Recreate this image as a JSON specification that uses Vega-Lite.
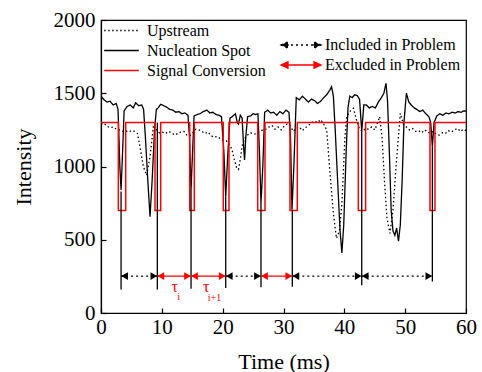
{
  "$schema": "https://vega.github.io/schema/vega-lite/v6.json",
  "width": 365,
  "height": 293,
  "autosize": {"type": "none"},
  "padding": {"left": 101, "top": 20, "right": 16, "bottom": 59},
  "background": "white",
  "config": {
    "font": "Liberation Serif",
    "style": {
      "guide-label": {"font": "Liberation Serif", "fontWeight": "normal", "fill": "black"},
      "guide-title": {"font": "Liberation Serif", "fontWeight": "normal", "fill": "black"}
    },
    "view": {"stroke": "black", "strokeWidth": 1.2},
    "axis": {
      "grid": false,
      "domainColor": "black",
      "domainWidth": 1.2,
      "tickColor": "black",
      "tickWidth": 1.2,
      "tickSize": -5,
      "labelFlush": false,
      "labelOverlap": false,
      "format": "d",
      "labelFont": "Liberation Serif",
      "labelFontSize": 21,
      "labelColor": "black",
      "titleFont": "Liberation Serif",
      "titleFontSize": 22,
      "titleFontWeight": 400,
      "titleColor": "black"
    },
    "legend": {
      "labelFont": "Liberation Serif",
      "labelFontSize": 16,
      "labelColor": "black"
    }
  },
  "datasets": {
    "traces": [
      {"t": 0, "v": 1480, "series": "Nucleation Spot"},
      {"t": 0.5, "v": 1455, "series": "Nucleation Spot"},
      {"t": 1.0, "v": 1440, "series": "Nucleation Spot"},
      {"t": 1.5, "v": 1445, "series": "Nucleation Spot"},
      {"t": 2.0, "v": 1420, "series": "Nucleation Spot"},
      {"t": 2.5, "v": 1430, "series": "Nucleation Spot"},
      {"t": 2.8, "v": 1390, "series": "Nucleation Spot"},
      {"t": 3.1, "v": 1000, "series": "Nucleation Spot"},
      {"t": 3.3, "v": 840, "series": "Nucleation Spot"},
      {"t": 3.55, "v": 1100, "series": "Nucleation Spot"},
      {"t": 3.8, "v": 1380, "series": "Nucleation Spot"},
      {"t": 4.3, "v": 1410, "series": "Nucleation Spot"},
      {"t": 4.8, "v": 1420, "series": "Nucleation Spot"},
      {"t": 5.3, "v": 1400, "series": "Nucleation Spot"},
      {"t": 5.7, "v": 1435, "series": "Nucleation Spot"},
      {"t": 6.2, "v": 1415, "series": "Nucleation Spot"},
      {"t": 6.7, "v": 1420, "series": "Nucleation Spot"},
      {"t": 7.0, "v": 1390, "series": "Nucleation Spot"},
      {"t": 7.3, "v": 1200, "series": "Nucleation Spot"},
      {"t": 7.7, "v": 900, "series": "Nucleation Spot"},
      {"t": 8.06, "v": 657, "series": "Nucleation Spot"},
      {"t": 8.4, "v": 900, "series": "Nucleation Spot"},
      {"t": 8.8, "v": 1250, "series": "Nucleation Spot"},
      {"t": 9.1, "v": 1390, "series": "Nucleation Spot"},
      {"t": 9.4, "v": 1400, "series": "Nucleation Spot"},
      {"t": 9.8, "v": 1425, "series": "Nucleation Spot"},
      {"t": 10.3, "v": 1415, "series": "Nucleation Spot"},
      {"t": 10.8, "v": 1405, "series": "Nucleation Spot"},
      {"t": 11.3, "v": 1390, "series": "Nucleation Spot"},
      {"t": 11.8, "v": 1385, "series": "Nucleation Spot"},
      {"t": 12.3, "v": 1370, "series": "Nucleation Spot"},
      {"t": 12.8, "v": 1375, "series": "Nucleation Spot"},
      {"t": 13.3, "v": 1360, "series": "Nucleation Spot"},
      {"t": 13.8, "v": 1365, "series": "Nucleation Spot"},
      {"t": 14.3, "v": 1350, "series": "Nucleation Spot"},
      {"t": 14.55, "v": 1200, "series": "Nucleation Spot"},
      {"t": 14.8, "v": 840, "series": "Nucleation Spot"},
      {"t": 15.05, "v": 1100, "series": "Nucleation Spot"},
      {"t": 15.3, "v": 1345, "series": "Nucleation Spot"},
      {"t": 15.8, "v": 1355, "series": "Nucleation Spot"},
      {"t": 16.3, "v": 1360, "series": "Nucleation Spot"},
      {"t": 16.8, "v": 1375, "series": "Nucleation Spot"},
      {"t": 17.4, "v": 1385, "series": "Nucleation Spot"},
      {"t": 17.9, "v": 1365, "series": "Nucleation Spot"},
      {"t": 18.4, "v": 1370, "series": "Nucleation Spot"},
      {"t": 18.9, "v": 1355, "series": "Nucleation Spot"},
      {"t": 19.4, "v": 1350, "series": "Nucleation Spot"},
      {"t": 19.8, "v": 1340, "series": "Nucleation Spot"},
      {"t": 20.2, "v": 1100, "series": "Nucleation Spot"},
      {"t": 20.5, "v": 794, "series": "Nucleation Spot"},
      {"t": 20.8, "v": 1050, "series": "Nucleation Spot"},
      {"t": 21.2, "v": 1330, "series": "Nucleation Spot"},
      {"t": 21.7, "v": 1345, "series": "Nucleation Spot"},
      {"t": 22.1, "v": 1360, "series": "Nucleation Spot"},
      {"t": 22.4, "v": 1300, "series": "Nucleation Spot"},
      {"t": 22.6, "v": 1290, "series": "Nucleation Spot"},
      {"t": 22.9, "v": 1350, "series": "Nucleation Spot"},
      {"t": 23.2, "v": 1330, "series": "Nucleation Spot"},
      {"t": 23.45, "v": 1130, "series": "Nucleation Spot"},
      {"t": 23.6, "v": 1045, "series": "Nucleation Spot"},
      {"t": 23.8, "v": 1200, "series": "Nucleation Spot"},
      {"t": 24.1, "v": 1340, "series": "Nucleation Spot"},
      {"t": 24.6, "v": 1345, "series": "Nucleation Spot"},
      {"t": 25.0, "v": 1360, "series": "Nucleation Spot"},
      {"t": 25.4, "v": 1355, "series": "Nucleation Spot"},
      {"t": 25.8, "v": 1360, "series": "Nucleation Spot"},
      {"t": 26.05, "v": 1100, "series": "Nucleation Spot"},
      {"t": 26.3, "v": 750, "series": "Nucleation Spot"},
      {"t": 26.6, "v": 1000, "series": "Nucleation Spot"},
      {"t": 26.9, "v": 1370, "series": "Nucleation Spot"},
      {"t": 27.4, "v": 1385, "series": "Nucleation Spot"},
      {"t": 27.9, "v": 1365, "series": "Nucleation Spot"},
      {"t": 28.4, "v": 1370, "series": "Nucleation Spot"},
      {"t": 28.9, "v": 1350, "series": "Nucleation Spot"},
      {"t": 29.4, "v": 1375, "series": "Nucleation Spot"},
      {"t": 29.9, "v": 1360, "series": "Nucleation Spot"},
      {"t": 30.4, "v": 1385, "series": "Nucleation Spot"},
      {"t": 30.9, "v": 1370, "series": "Nucleation Spot"},
      {"t": 31.15, "v": 1200, "series": "Nucleation Spot"},
      {"t": 31.4, "v": 705, "series": "Nucleation Spot"},
      {"t": 31.7, "v": 1000, "series": "Nucleation Spot"},
      {"t": 32.1, "v": 1470, "series": "Nucleation Spot"},
      {"t": 32.6, "v": 1455, "series": "Nucleation Spot"},
      {"t": 33.1, "v": 1480, "series": "Nucleation Spot"},
      {"t": 33.6, "v": 1460, "series": "Nucleation Spot"},
      {"t": 34.1, "v": 1440, "series": "Nucleation Spot"},
      {"t": 34.6, "v": 1460, "series": "Nucleation Spot"},
      {"t": 35.1, "v": 1450, "series": "Nucleation Spot"},
      {"t": 35.6, "v": 1430, "series": "Nucleation Spot"},
      {"t": 36.1, "v": 1445, "series": "Nucleation Spot"},
      {"t": 36.6, "v": 1470, "series": "Nucleation Spot"},
      {"t": 37.1, "v": 1490, "series": "Nucleation Spot"},
      {"t": 37.6, "v": 1520, "series": "Nucleation Spot"},
      {"t": 37.9, "v": 1545, "series": "Nucleation Spot"},
      {"t": 38.2, "v": 1480, "series": "Nucleation Spot"},
      {"t": 38.5, "v": 1250, "series": "Nucleation Spot"},
      {"t": 38.9, "v": 900, "series": "Nucleation Spot"},
      {"t": 39.3, "v": 560, "series": "Nucleation Spot"},
      {"t": 39.6, "v": 410, "series": "Nucleation Spot"},
      {"t": 39.9, "v": 600, "series": "Nucleation Spot"},
      {"t": 40.3, "v": 1100, "series": "Nucleation Spot"},
      {"t": 40.6, "v": 1400, "series": "Nucleation Spot"},
      {"t": 40.9, "v": 1480, "series": "Nucleation Spot"},
      {"t": 41.3, "v": 1470, "series": "Nucleation Spot"},
      {"t": 41.7, "v": 1490, "series": "Nucleation Spot"},
      {"t": 42.1, "v": 1485, "series": "Nucleation Spot"},
      {"t": 42.5, "v": 1460, "series": "Nucleation Spot"},
      {"t": 42.86, "v": 1240, "series": "Nucleation Spot"},
      {"t": 43.2, "v": 1420, "series": "Nucleation Spot"},
      {"t": 43.6, "v": 1420, "series": "Nucleation Spot"},
      {"t": 44.1, "v": 1400, "series": "Nucleation Spot"},
      {"t": 44.6, "v": 1410, "series": "Nucleation Spot"},
      {"t": 45.1, "v": 1400, "series": "Nucleation Spot"},
      {"t": 45.6, "v": 1440, "series": "Nucleation Spot"},
      {"t": 46.1, "v": 1470, "series": "Nucleation Spot"},
      {"t": 46.5, "v": 1500, "series": "Nucleation Spot"},
      {"t": 46.85, "v": 1568, "series": "Nucleation Spot"},
      {"t": 47.1, "v": 1450, "series": "Nucleation Spot"},
      {"t": 47.4, "v": 1100, "series": "Nucleation Spot"},
      {"t": 47.7, "v": 700, "series": "Nucleation Spot"},
      {"t": 48.0, "v": 560, "series": "Nucleation Spot"},
      {"t": 48.3, "v": 530, "series": "Nucleation Spot"},
      {"t": 48.6, "v": 580, "series": "Nucleation Spot"},
      {"t": 48.9, "v": 490, "series": "Nucleation Spot"},
      {"t": 49.2, "v": 600, "series": "Nucleation Spot"},
      {"t": 49.5, "v": 900, "series": "Nucleation Spot"},
      {"t": 49.8, "v": 1300, "series": "Nucleation Spot"},
      {"t": 50.2, "v": 1500, "series": "Nucleation Spot"},
      {"t": 50.6, "v": 1440, "series": "Nucleation Spot"},
      {"t": 51.0, "v": 1420, "series": "Nucleation Spot"},
      {"t": 51.5, "v": 1400, "series": "Nucleation Spot"},
      {"t": 51.9, "v": 1390, "series": "Nucleation Spot"},
      {"t": 52.4, "v": 1375, "series": "Nucleation Spot"},
      {"t": 52.9, "v": 1385, "series": "Nucleation Spot"},
      {"t": 53.4, "v": 1360, "series": "Nucleation Spot"},
      {"t": 53.9, "v": 1340, "series": "Nucleation Spot"},
      {"t": 54.2, "v": 1300, "series": "Nucleation Spot"},
      {"t": 54.47, "v": 1135, "series": "Nucleation Spot"},
      {"t": 54.75, "v": 1300, "series": "Nucleation Spot"},
      {"t": 55.2, "v": 1345, "series": "Nucleation Spot"},
      {"t": 55.7, "v": 1360, "series": "Nucleation Spot"},
      {"t": 56.2, "v": 1350, "series": "Nucleation Spot"},
      {"t": 56.7, "v": 1365, "series": "Nucleation Spot"},
      {"t": 57.2, "v": 1360, "series": "Nucleation Spot"},
      {"t": 57.7, "v": 1370, "series": "Nucleation Spot"},
      {"t": 58.2, "v": 1365, "series": "Nucleation Spot"},
      {"t": 58.7, "v": 1375, "series": "Nucleation Spot"},
      {"t": 59.2, "v": 1370, "series": "Nucleation Spot"},
      {"t": 59.6, "v": 1380, "series": "Nucleation Spot"},
      {"t": 60, "v": 1378, "series": "Nucleation Spot"},
      {"t": 0, "v": 1290, "series": "Upstream"},
      {"t": 0.5, "v": 1295, "series": "Upstream"},
      {"t": 1.0, "v": 1275, "series": "Upstream"},
      {"t": 1.5, "v": 1265, "series": "Upstream"},
      {"t": 2.0, "v": 1270, "series": "Upstream"},
      {"t": 2.5, "v": 1255, "series": "Upstream"},
      {"t": 3.0, "v": 1250, "series": "Upstream"},
      {"t": 3.5, "v": 1240, "series": "Upstream"},
      {"t": 4.0, "v": 1245, "series": "Upstream"},
      {"t": 4.5, "v": 1235, "series": "Upstream"},
      {"t": 5.0, "v": 1245, "series": "Upstream"},
      {"t": 5.5, "v": 1240, "series": "Upstream"},
      {"t": 6.0, "v": 1225, "series": "Upstream"},
      {"t": 6.4, "v": 1135, "series": "Upstream"},
      {"t": 6.96, "v": 1000, "series": "Upstream"},
      {"t": 7.5, "v": 940, "series": "Upstream"},
      {"t": 8.06, "v": 1067, "series": "Upstream"},
      {"t": 8.6, "v": 1270, "series": "Upstream"},
      {"t": 9.1, "v": 1250, "series": "Upstream"},
      {"t": 9.6, "v": 1230, "series": "Upstream"},
      {"t": 10.1, "v": 1235, "series": "Upstream"},
      {"t": 10.6, "v": 1225, "series": "Upstream"},
      {"t": 11.1, "v": 1240, "series": "Upstream"},
      {"t": 11.6, "v": 1230, "series": "Upstream"},
      {"t": 12.1, "v": 1215, "series": "Upstream"},
      {"t": 12.6, "v": 1225, "series": "Upstream"},
      {"t": 13.1, "v": 1235, "series": "Upstream"},
      {"t": 13.6, "v": 1240, "series": "Upstream"},
      {"t": 14.1, "v": 1215, "series": "Upstream"},
      {"t": 14.6, "v": 1210, "series": "Upstream"},
      {"t": 15.1, "v": 1230, "series": "Upstream"},
      {"t": 15.6, "v": 1255, "series": "Upstream"},
      {"t": 16.1, "v": 1250, "series": "Upstream"},
      {"t": 16.6, "v": 1240, "series": "Upstream"},
      {"t": 17.1, "v": 1225, "series": "Upstream"},
      {"t": 17.6, "v": 1235, "series": "Upstream"},
      {"t": 18.1, "v": 1210, "series": "Upstream"},
      {"t": 18.6, "v": 1200, "series": "Upstream"},
      {"t": 19.1, "v": 1205, "series": "Upstream"},
      {"t": 19.6, "v": 1190, "series": "Upstream"},
      {"t": 20.1, "v": 1180, "series": "Upstream"},
      {"t": 20.6, "v": 1175, "series": "Upstream"},
      {"t": 21.1, "v": 1150, "series": "Upstream"},
      {"t": 21.5, "v": 1120, "series": "Upstream"},
      {"t": 21.9, "v": 1050, "series": "Upstream"},
      {"t": 22.3, "v": 990, "series": "Upstream"},
      {"t": 22.6, "v": 980, "series": "Upstream"},
      {"t": 22.9, "v": 1050, "series": "Upstream"},
      {"t": 23.2, "v": 1140, "series": "Upstream"},
      {"t": 23.6, "v": 1190, "series": "Upstream"},
      {"t": 24.1, "v": 1215, "series": "Upstream"},
      {"t": 24.6, "v": 1230, "series": "Upstream"},
      {"t": 25.1, "v": 1220, "series": "Upstream"},
      {"t": 25.6, "v": 1225, "series": "Upstream"},
      {"t": 26.1, "v": 1240, "series": "Upstream"},
      {"t": 26.6, "v": 1250, "series": "Upstream"},
      {"t": 27.1, "v": 1255, "series": "Upstream"},
      {"t": 27.6, "v": 1270, "series": "Upstream"},
      {"t": 28.1, "v": 1280, "series": "Upstream"},
      {"t": 28.6, "v": 1255, "series": "Upstream"},
      {"t": 29.1, "v": 1270, "series": "Upstream"},
      {"t": 29.6, "v": 1250, "series": "Upstream"},
      {"t": 30.1, "v": 1275, "series": "Upstream"},
      {"t": 30.6, "v": 1290, "series": "Upstream"},
      {"t": 31.1, "v": 1280, "series": "Upstream"},
      {"t": 31.6, "v": 1240, "series": "Upstream"},
      {"t": 32.1, "v": 1260, "series": "Upstream"},
      {"t": 32.6, "v": 1270, "series": "Upstream"},
      {"t": 33.1, "v": 1245, "series": "Upstream"},
      {"t": 33.6, "v": 1265, "series": "Upstream"},
      {"t": 34.1, "v": 1280, "series": "Upstream"},
      {"t": 34.6, "v": 1300, "series": "Upstream"},
      {"t": 35.1, "v": 1310, "series": "Upstream"},
      {"t": 35.6, "v": 1300, "series": "Upstream"},
      {"t": 36.1, "v": 1320, "series": "Upstream"},
      {"t": 36.6, "v": 1290, "series": "Upstream"},
      {"t": 37.1, "v": 1250, "series": "Upstream"},
      {"t": 37.6, "v": 976, "series": "Upstream"},
      {"t": 38.2, "v": 680, "series": "Upstream"},
      {"t": 38.7, "v": 510, "series": "Upstream"},
      {"t": 39.2, "v": 560, "series": "Upstream"},
      {"t": 39.6, "v": 749, "series": "Upstream"},
      {"t": 40.1, "v": 1203, "series": "Upstream"},
      {"t": 40.4, "v": 1340, "series": "Upstream"},
      {"t": 41.0, "v": 1380, "series": "Upstream"},
      {"t": 41.5, "v": 1397, "series": "Upstream"},
      {"t": 42.0, "v": 1317, "series": "Upstream"},
      {"t": 42.5, "v": 1255, "series": "Upstream"},
      {"t": 43.0, "v": 1240, "series": "Upstream"},
      {"t": 43.5, "v": 1260, "series": "Upstream"},
      {"t": 44.0, "v": 1255, "series": "Upstream"},
      {"t": 44.5, "v": 1270, "series": "Upstream"},
      {"t": 45.0, "v": 1250, "series": "Upstream"},
      {"t": 45.4, "v": 1290, "series": "Upstream"},
      {"t": 45.8, "v": 1340, "series": "Upstream"},
      {"t": 46.2, "v": 1200, "series": "Upstream"},
      {"t": 46.6, "v": 900, "series": "Upstream"},
      {"t": 47.0, "v": 650, "series": "Upstream"},
      {"t": 47.5, "v": 544, "series": "Upstream"},
      {"t": 48.0, "v": 700, "series": "Upstream"},
      {"t": 48.5, "v": 1000, "series": "Upstream"},
      {"t": 49.2, "v": 1363, "series": "Upstream"},
      {"t": 49.7, "v": 1290, "series": "Upstream"},
      {"t": 50.2, "v": 1270, "series": "Upstream"},
      {"t": 50.7, "v": 1250, "series": "Upstream"},
      {"t": 51.2, "v": 1260, "series": "Upstream"},
      {"t": 51.7, "v": 1240, "series": "Upstream"},
      {"t": 52.2, "v": 1245, "series": "Upstream"},
      {"t": 52.7, "v": 1230, "series": "Upstream"},
      {"t": 53.2, "v": 1250, "series": "Upstream"},
      {"t": 53.7, "v": 1235, "series": "Upstream"},
      {"t": 54.1, "v": 1227, "series": "Upstream"},
      {"t": 54.6, "v": 1240, "series": "Upstream"},
      {"t": 55.1, "v": 1220, "series": "Upstream"},
      {"t": 55.6, "v": 1215, "series": "Upstream"},
      {"t": 56.1, "v": 1230, "series": "Upstream"},
      {"t": 56.6, "v": 1225, "series": "Upstream"},
      {"t": 57.1, "v": 1245, "series": "Upstream"},
      {"t": 57.6, "v": 1235, "series": "Upstream"},
      {"t": 58.1, "v": 1250, "series": "Upstream"},
      {"t": 58.6, "v": 1260, "series": "Upstream"},
      {"t": 59.1, "v": 1240, "series": "Upstream"},
      {"t": 59.6, "v": 1255, "series": "Upstream"},
      {"t": 60, "v": 1245, "series": "Upstream"}
    ],
    "signal": [
      {"i": 0, "t": 0, "v": 1300, "series": "Signal Conversion"},
      {"i": 1, "t": 2.85, "v": 1300, "series": "Signal Conversion"},
      {"i": 2, "t": 2.85, "v": 700, "series": "Signal Conversion"},
      {"i": 3, "t": 4.06, "v": 700, "series": "Signal Conversion"},
      {"i": 4, "t": 4.06, "v": 1300, "series": "Signal Conversion"},
      {"i": 5, "t": 8.88, "v": 1300, "series": "Signal Conversion"},
      {"i": 6, "t": 8.88, "v": 700, "series": "Signal Conversion"},
      {"i": 7, "t": 9.81, "v": 700, "series": "Signal Conversion"},
      {"i": 8, "t": 9.81, "v": 1300, "series": "Signal Conversion"},
      {"i": 9, "t": 14.58, "v": 1300, "series": "Signal Conversion"},
      {"i": 10, "t": 14.58, "v": 700, "series": "Signal Conversion"},
      {"i": 11, "t": 15.34, "v": 700, "series": "Signal Conversion"},
      {"i": 12, "t": 15.34, "v": 1300, "series": "Signal Conversion"},
      {"i": 13, "t": 20.1, "v": 1300, "series": "Signal Conversion"},
      {"i": 14, "t": 20.1, "v": 700, "series": "Signal Conversion"},
      {"i": 15, "t": 21.04, "v": 700, "series": "Signal Conversion"},
      {"i": 16, "t": 21.04, "v": 1300, "series": "Signal Conversion"},
      {"i": 17, "t": 25.76, "v": 1300, "series": "Signal Conversion"},
      {"i": 18, "t": 25.76, "v": 700, "series": "Signal Conversion"},
      {"i": 19, "t": 26.96, "v": 700, "series": "Signal Conversion"},
      {"i": 20, "t": 26.96, "v": 1300, "series": "Signal Conversion"},
      {"i": 21, "t": 31.07, "v": 1300, "series": "Signal Conversion"},
      {"i": 22, "t": 31.07, "v": 700, "series": "Signal Conversion"},
      {"i": 23, "t": 32.27, "v": 700, "series": "Signal Conversion"},
      {"i": 24, "t": 32.27, "v": 1300, "series": "Signal Conversion"},
      {"i": 25, "t": 42.3, "v": 1300, "series": "Signal Conversion"},
      {"i": 26, "t": 42.3, "v": 700, "series": "Signal Conversion"},
      {"i": 27, "t": 43.5, "v": 700, "series": "Signal Conversion"},
      {"i": 28, "t": 43.5, "v": 1300, "series": "Signal Conversion"},
      {"i": 29, "t": 54.08, "v": 1300, "series": "Signal Conversion"},
      {"i": 30, "t": 54.08, "v": 700, "series": "Signal Conversion"},
      {"i": 31, "t": 54.9, "v": 700, "series": "Signal Conversion"},
      {"i": 32, "t": 54.9, "v": 1300, "series": "Signal Conversion"},
      {"i": 33, "t": 60, "v": 1300, "series": "Signal Conversion"}
    ],
    "events": [
      {"t": 3.3, "lo": 160, "hi": 830},
      {"t": 9.26, "lo": 160, "hi": 1300},
      {"t": 14.8, "lo": 165, "hi": 840},
      {"t": 20.5, "lo": 170, "hi": 794},
      {"t": 26.3, "lo": 175, "hi": 750},
      {"t": 31.45, "lo": 180, "hi": 705},
      {"t": 42.86, "lo": 190, "hi": 1240},
      {"t": 54.47, "lo": 215, "hi": 1135}
    ],
    "arrows": [
      {"t1": 3.3, "t2": 9.26, "v": 252, "type": "Included in Problem"},
      {"t1": 9.26, "t2": 14.8, "v": 252, "type": "Excluded in Problem"},
      {"t1": 14.8, "t2": 20.5, "v": 252, "type": "Excluded in Problem"},
      {"t1": 20.5, "t2": 26.3, "v": 252, "type": "Included in Problem"},
      {"t1": 26.3, "t2": 31.45, "v": 252, "type": "Excluded in Problem"},
      {"t1": 31.45, "t2": 42.86, "v": 252, "type": "Included in Problem"},
      {"t1": 42.86, "t2": 54.47, "v": 252, "type": "Included in Problem"}
    ],
    "taus": [
      {"t": 12.1, "v": 178, "text": "τ"},
      {"t": 17.3, "v": 178, "text": "τ"}
    ],
    "subs": [
      {"t": 12.75, "v": 108, "text": "i"},
      {"t": 18.65, "v": 103, "text": "i+1"}
    ]
  },
  "resolve": {"scale": {"color": "independent", "strokeDash": "independent"}},
  "layer": [
    {
      "layer": [
        {
          "data": {"name": "traces"},
          "mark": {"type": "line", "strokeWidth": 1.3, "clip": true},
          "encoding": {
            "x": {"field": "t", "type": "quantitative", "scale": {"domain": [0, 60], "nice": false},
              "axis": {"title": "Time (ms)", "values": [0,5,10,15,20,25,30,35,40,45,50,55,60],
                "labelExpr": "datum.value % 10 === 0 ? datum.label : ''", "labelPadding": 8, "titlePadding": 14,
                "titleFont": "Liberation Serif", "titleFontWeight": 400, "labelFont": "Liberation Serif"}},
            "y": {"field": "v", "type": "quantitative", "scale": {"domain": [0, 2000], "nice": false},
              "axis": {"title": "Intensity", "values": [0,250,500,750,1000,1250,1500,1750,2000],
                "labelExpr": "datum.value % 500 === 0 ? datum.label : ''", "labelPadding": 11, "titlePadding": 18,
                "titleFont": "Liberation Serif", "titleFontWeight": 400, "labelFont": "Liberation Serif"}},
            "color": {"field": "series", "type": "nominal",
              "scale": {"domain": ["Upstream", "Nucleation Spot", "Signal Conversion"], "range": ["black", "black", "#ff0000"]},
              "legend": {"title": null, "orient": "none", "legendX": 11, "legendY": 1, "symbolType": "M-2,0L2,0", "symbolSize": 300, "symbolStrokeWidth": 1.3, "rowPadding": 2, "labelOffset": 16}},
            "strokeDash": {"field": "series", "type": "nominal",
              "scale": {"domain": ["Upstream", "Nucleation Spot", "Signal Conversion"], "range": [[1.5, 2.5], [1, 0], [1, 0]]},
              "legend": {"title": null, "orient": "none", "legendX": 11, "legendY": 1, "symbolType": "M-2,0L2,0", "symbolSize": 300, "symbolStrokeWidth": 1.3, "rowPadding": 2, "labelOffset": 16}}
          }
        },
        {
          "data": {"name": "signal"},
          "mark": {"type": "line", "strokeWidth": 1.5},
          "encoding": {
            "x": {"field": "t", "type": "quantitative"},
            "y": {"field": "v", "type": "quantitative"},
            "order": {"field": "i", "type": "quantitative"},
            "color": {"field": "series", "type": "nominal"},
            "strokeDash": {"field": "series", "type": "nominal"}
          }
        }
      ]
    },
    {
      "data": {"name": "events"},
      "mark": {"type": "rule", "color": "black", "strokeWidth": 1.3},
      "encoding": {
        "x": {"field": "t", "type": "quantitative"},
        "y": {"field": "lo", "type": "quantitative"},
        "y2": {"field": "hi"}
      }
    },
    {
      "layer": [
        {
          "data": {"name": "arrows"},
          "mark": {"type": "rule", "strokeWidth": 1.3},
          "encoding": {
            "x": {"field": "t1", "type": "quantitative"},
            "x2": {"field": "t2"},
            "y": {"field": "v", "type": "quantitative"},
            "color": {"field": "type", "type": "nominal",
              "scale": {"domain": ["Included in Problem", "Excluded in Problem"], "range": ["black", "#ff0000"]},
              "legend": {"title": null, "orient": "none", "legendX": 189, "legendY": 14,
                "symbolType": "M-2,0L2,0M-2,0L-1.3,-0.32L-1.3,0.32ZM2,0L1.3,-0.32L1.3,0.32Z",
                "symbolSize": 400, "symbolStrokeWidth": 1.3, "rowPadding": 1, "labelOffset": 13,
                "encode": {"symbols": {"update": {
                  "fill": {"signal": "datum.value === 'Excluded in Problem' ? '#ff0000' : 'black'"},
                  "stroke": {"signal": "datum.value === 'Excluded in Problem' ? '#ff0000' : 'black'"},
                  "strokeDash": {"signal": "datum.value === 'Included in Problem' ? [2, 3] : [1, 0]"},
                  "opacity": {"value": 1}
                }}}}},
            "strokeDash": {"field": "type", "type": "nominal",
              "scale": {"domain": ["Included in Problem", "Excluded in Problem"], "range": [[2, 3], [1, 0]]},
              "legend": null}
          }
        },
        {
          "data": {"name": "arrows"},
          "mark": {"type": "point", "shape": "triangle-left", "filled": true, "size": 60, "opacity": 1, "xOffset": 3.5},
          "encoding": {
            "x": {"field": "t1", "type": "quantitative"},
            "y": {"field": "v", "type": "quantitative"},
            "color": {"field": "type", "type": "nominal"}
          }
        },
        {
          "data": {"name": "arrows"},
          "mark": {"type": "point", "shape": "triangle-right", "filled": true, "size": 60, "opacity": 1, "xOffset": -3.5},
          "encoding": {
            "x": {"field": "t2", "type": "quantitative"},
            "y": {"field": "v", "type": "quantitative"},
            "color": {"field": "type", "type": "nominal"}
          }
        }
      ]
    },
    {
      "data": {"name": "taus"},
      "mark": {"type": "text", "color": "#ff0000", "font": "Liberation Serif", "fontSize": 16},
      "encoding": {
        "x": {"field": "t", "type": "quantitative"},
        "y": {"field": "v", "type": "quantitative"},
        "text": {"field": "text"}
      }
    },
    {
      "data": {"name": "subs"},
      "mark": {"type": "text", "color": "#ff0000", "font": "Liberation Serif", "fontSize": 10},
      "encoding": {
        "x": {"field": "t", "type": "quantitative"},
        "y": {"field": "v", "type": "quantitative"},
        "text": {"field": "text"}
      }
    }
  ]
}
